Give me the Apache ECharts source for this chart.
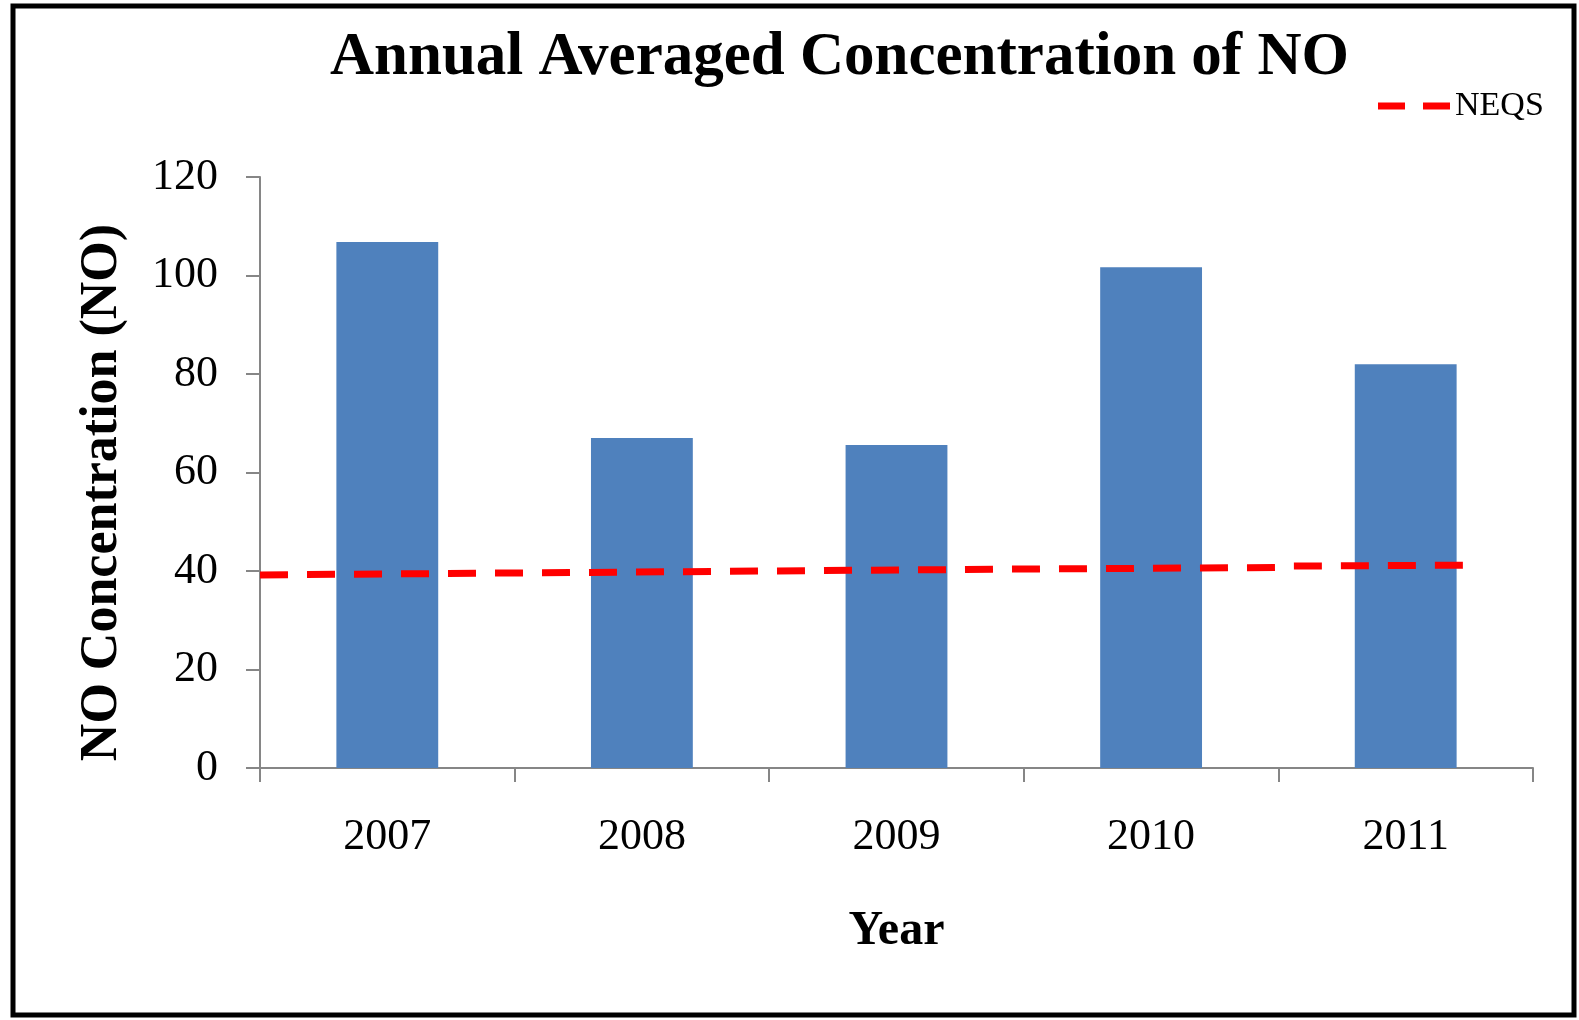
<!DOCTYPE html>
<html>

<head>
    <meta charset="utf-8">
    <script src="https://cdn.jsdelivr.net/npm/echarts@6/dist/echarts.min.js"></script>
    <style>
        html, body, div {
            width: 100%;
            height: 100%;
            margin: 0px;
        }
    </style>
</head>

<body>
    <div id="chart"></div>
    <script>
        var years = ['2007', '2008', '2009', '2010', '2011'];
        var noValues = [106.8, 67.0, 65.6, 101.7, 82.0];
        // NEQS line, x measured in category widths from the y axis
        var neqsX = [0, 1, 2, 3, 4, 4.05, 4.75];
        var neqsY = [39.2, 39.6, 40.0, 40.4, 40.7, 41.0, 41.2];
        var yTicks = [0, 20, 40, 60, 80, 100, 120];

        var myChart = echarts.init(document.getElementById('chart'));
        var serif = '"Liberation Serif", "Times New Roman", serif';
        var axisGray = '#868686';

        var option = {
            backgroundColor: '#fff',
            animation: false,
            title: {
                text: 'Annual Averaged Concentration of NO',
                left: 325,
                top: 23,
                textStyle: {
                    fontFamily: serif,
                    fontSize: 61,
                    fontWeight: 'bold',
                    color: '#000'
                }
            },
            legend: {
                data: [{
                    name: 'NEQS',
                    icon: 'path://M0,0 H27 V7 H0 Z M45,0 H72 V7 H45 Z'
                }],
                left: 1373,
                top: 84,
                itemWidth: 72,
                itemHeight: 7,
                itemGap: 8,
                itemStyle: { color: '#FF0000' },
                textStyle: { fontFamily: serif, fontSize: 34, color: '#000' }
            },
            graphic: [{
                type: 'rect',
                shape: { x: 13, y: 6, width: 1561, height: 1009 },
                style: { fill: 'none', stroke: '#000', lineWidth: 5 }
            }],
            grid: { left: 260, right: 46, top: 177, bottom: 252 },
            xAxis: [{
                type: 'category',
                data: years,
                name: 'Year',
                nameLocation: 'middle',
                nameGap: 140,
                nameTextStyle: { fontFamily: serif, fontSize: 48, fontWeight: 'bold', color: '#000' },
                axisLine: { lineStyle: { color: axisGray, width: 2 } },
                axisTick: { show: true, alignWithLabel: false, length: 14, lineStyle: { color: axisGray, width: 2 } },
                axisLabel: { fontFamily: serif, fontSize: 44, color: '#000', margin: 47 }
            }, {
                type: 'value',
                min: 0,
                max: years.length,
                show: false
            }],
            yAxis: {
                type: 'value',
                min: yTicks[0],
                max: yTicks[yTicks.length - 1],
                interval: 20,
                name: 'NO Concentration (NO)',
                nameLocation: 'middle',
                nameGap: 131,
                nameTextStyle: {
                    fontFamily: serif, fontSize: 52, fontWeight: 'bold', color: '#000',
                    padding: [0, 40, 0, 0]
                },
                axisLine: { show: true, lineStyle: { color: axisGray, width: 2 } },
                axisTick: { show: true, length: 14, lineStyle: { color: axisGray, width: 2 } },
                splitLine: { show: false },
                axisLabel: { fontFamily: serif, fontSize: 44, color: '#000', margin: 42 }
            },
            series: [{
                name: 'NO',
                type: 'bar',
                data: noValues,
                barWidth: '40%',
                itemStyle: { color: '#4F81BD' }
            }, {
                name: 'NEQS',
                type: 'line',
                xAxisIndex: 1,
                data: neqsX.map(function (x, i) { return [x, neqsY[i]]; }),
                symbol: 'none',
                z: 5,
                itemStyle: { color: '#FF0000' },
                lineStyle: { color: '#FF0000', width: 7, type: [28, 19] }
            }]
        };
        myChart.setOption(option);
    </script>
</body>

</html>
